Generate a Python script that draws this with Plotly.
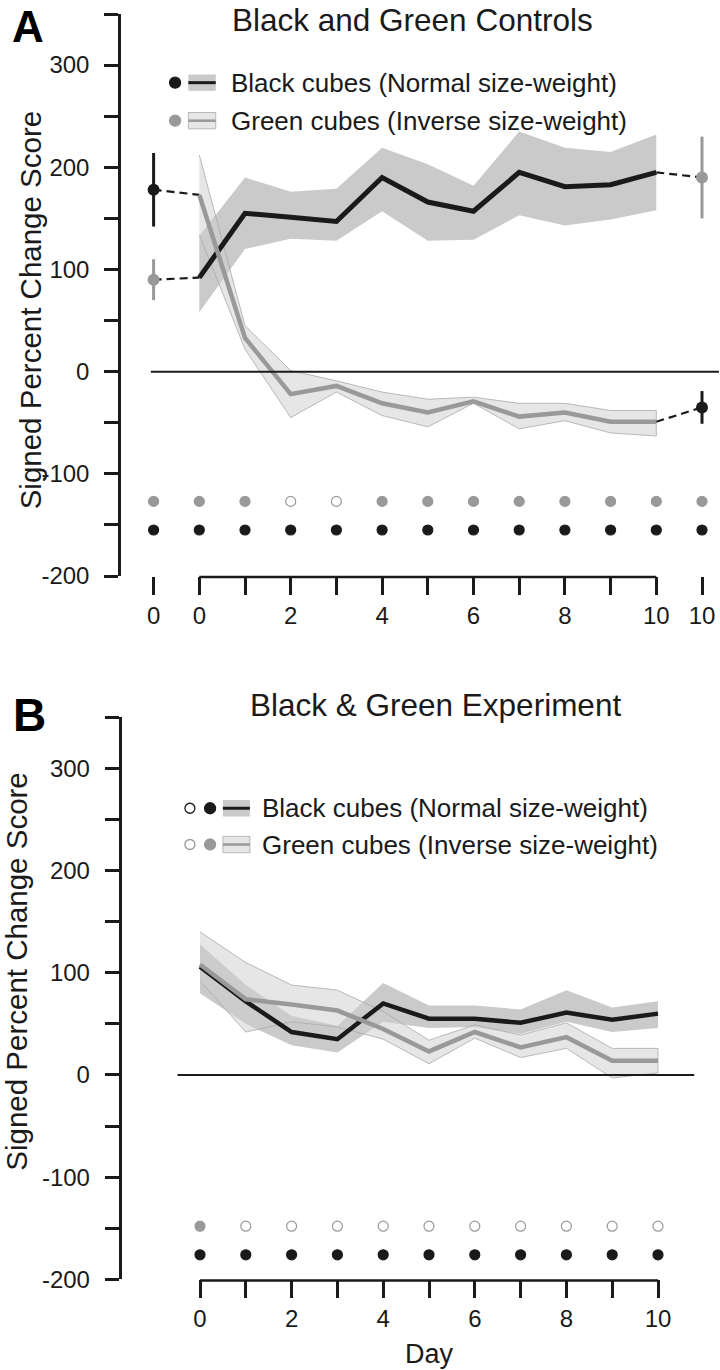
import plotly.graph_objects as go

# ---------------- data ----------------
days = list(range(11))
pre_day = -1
post_day = 11

# Panel A: Black and Green Controls
A_black_mean = [92, 155, 151, 147, 190, 166, 157, 195, 181, 183, 195]
A_black_upper = [133, 190, 176, 179, 219, 203, 182, 235, 219, 215, 232]
A_black_lower = [58, 120, 130, 128, 157, 128, 129, 153, 143, 149, 158]
A_green_mean = [173, 33, -22, -14, -31, -40, -29, -44, -40, -49, -49]
A_green_upper = [212, 45, 1, -9, -20, -27, -25, -31, -31, -38, -38]
A_green_lower = [134, 22, -45, -20, -43, -54, -31, -56, -48, -60, -63]
A_pre_black, A_pre_black_err = 178, 36
A_pre_green, A_pre_green_err = 90, 20
A_post_green, A_post_green_err = 190, 40
A_post_black, A_post_black_err = -35, 16
A_sig_days = [-1] + days + [11]
A_gray_sig = [1, 1, 1, 0, 0, 1, 1, 1, 1, 1, 1, 1, 1]
A_black_sig = [1] * 13

# Panel B: Black & Green Experiment
B_black_mean = [106, 72, 42, 35, 70, 55, 55, 51, 61, 54, 60]
B_black_upper = [128, 88, 58, 48, 90, 68, 68, 64, 83, 66, 72]
B_black_lower = [80, 50, 29, 22, 52, 46, 47, 40, 52, 42, 46]
B_green_mean = [108, 74, 69, 63, 45, 23, 42, 27, 37, 14, 14]
B_green_upper = [140, 110, 88, 83, 62, 34, 49, 39, 51, 26, 26]
B_green_lower = [92, 42, 52, 47, 35, 11, 36, 17, 26, -3, 2]
B_sig_days = days
B_gray_sig = [1, 0, 0, 0, 0, 0, 0, 0, 0, 0, 0]
B_black_sig = [1] * 11

y_ticks = list(range(-200, 351, 50))
y_ticktext = [str(v) if v % 100 == 0 else "" for v in y_ticks]
A_xticks = [-1] + days + [11]
A_xticktext = ["0"] + [str(d) if d % 2 == 0 else "" for d in days] + ["10"]
B_xticks = days
B_xticktext = [str(d) if d % 2 == 0 else "" for d in days]

legend_labels = ["Black cubes (Normal size-weight)", "Green cubes (Inverse size-weight)"]

# ---------------- style ----------------
W, H = 720, 1370
INK = "#1a1a1a"
GREY = "#999999"
BLACK_BAND = "rgba(150,150,150,0.5)"
GREEN_BAND = "rgba(205,205,205,0.5)"
GREEN_EDGE = "rgba(170,170,170,0.8)"
FONT = "Liberation Sans, Arial, sans-serif"

fig = go.Figure()


def band(x, up, lo, fill, edge, xa, ya):
    fig.add_trace(go.Scatter(
        x=list(x) + list(x)[::-1], y=list(up) + list(lo)[::-1],
        fill="toself", fillcolor=fill, mode="lines",
        line=dict(color=edge, width=1 if edge else 0),
        hoverinfo="skip", xaxis=xa, yaxis=ya))


def line(x, y, color, width, xa, ya, dash=None):
    fig.add_trace(go.Scatter(x=x, y=y, mode="lines",
                             line=dict(color=color, width=width, dash=dash),
                             xaxis=xa, yaxis=ya))


def sig_row(x, flags, yval, color, xa, ya):
    fig.add_trace(go.Scatter(
        x=x, y=[yval] * len(x), mode="markers",
        marker=dict(size=10, color=[color if f else "white" for f in flags],
                    line=dict(color=color, width=1.2)),
        xaxis=xa, yaxis=ya, cliponaxis=False))


# ----- Panel A -----
band(days, A_black_upper, A_black_lower, BLACK_BAND, None, "x", "y")
band(days, A_green_upper, A_green_lower, GREEN_BAND, GREEN_EDGE, "x", "y")
DASH = "8px,5px"
line([pre_day, 0], [A_pre_black, A_green_mean[0]], INK, 2.2, "x", "y", DASH)
line([pre_day, 0], [A_pre_green, A_black_mean[0]], INK, 2.2, "x", "y", DASH)
line([10, post_day], [A_black_mean[-1], A_post_green], INK, 2.2, "x", "y", DASH)
line([10, post_day], [A_green_mean[-1], A_post_black], INK, 2.2, "x", "y", DASH)
for xv, yv, err, col in [(pre_day, A_pre_black, A_pre_black_err, INK),
                         (pre_day, A_pre_green, A_pre_green_err, GREY),
                         (post_day, A_post_green, A_post_green_err, GREY),
                         (post_day, A_post_black, A_post_black_err, INK)]:
    fig.add_trace(go.Scatter(x=[xv], y=[yv], mode="markers",
                             marker=dict(size=12, color=col),
                             error_y=dict(type="data", array=[err], color=col,
                                          thickness=3, width=0),
                             xaxis="x", yaxis="y"))
line(days, A_black_mean, INK, 5, "x", "y")
line(days, A_green_mean, GREY, 4.5, "x", "y")
sig_row(A_sig_days, A_gray_sig, -127, GREY, "x", "y")
sig_row(A_sig_days, A_black_sig, -155, INK, "x", "y")

# ----- Panel B -----
band(days, B_black_upper, B_black_lower, BLACK_BAND, None, "x2", "y2")
band(days, B_green_upper, B_green_lower, GREEN_BAND, GREEN_EDGE, "x2", "y2")
line(days, B_black_mean, INK, 4.5, "x2", "y2")
line(days, B_green_mean, GREY, 4.5, "x2", "y2")
sig_row(B_sig_days, B_gray_sig, -148, GREY, "x2", "y2")
sig_row(B_sig_days, B_black_sig, -176, INK, "x2", "y2")

# ---------------- axes ----------------
A_x0px, A_day0px, A_pxday = 121, 199.3, 45.7
B_x0px, B_day0px, B_pxday = 121.5, 200.0, 45.8
A_xrange = [(A_x0px - A_day0px) / A_pxday, (W - A_day0px) / A_pxday]
B_xrange = [(B_x0px - B_day0px) / B_pxday, (W - B_day0px) / B_pxday]
A_ydom = [1 - 576 / H, 1 - 14 / H]
B_ydom = [1 - 1279.3 / H, 1 - 717.3 / H]

xcommon = dict(showgrid=False, zeroline=False, showline=False, ticks="outside",
               ticklen=18, tickwidth=2.5, tickcolor=INK, automargin=False,
               tickfont=dict(size=24, color=INK, family=FONT), fixedrange=True)
ycommon = dict(showgrid=False, zeroline=False, showline=True, linewidth=2.5,
               linecolor=INK, ticks="outside", ticklen=14, tickwidth=2.5,
               tickcolor=INK, tickvals=y_ticks, ticktext=y_ticktext,
               range=[-200, 350], ticklabelstandoff=10, automargin=False,
               tickfont=dict(size=24, color=INK, family=FONT), fixedrange=True)

fig.update_layout(
    template="none",
    width=W, height=H, autosize=False,
    margin=dict(l=0, r=0, t=0, b=0, pad=0, autoexpand=False),
    paper_bgcolor="white", plot_bgcolor="white", showlegend=False,
    font=dict(family=FONT, color=INK),
    xaxis=dict(domain=[A_x0px / W, 1], range=A_xrange, anchor="y",
               tickvals=A_xticks, ticktext=A_xticktext, **xcommon),
    yaxis=dict(domain=A_ydom, anchor="x", **ycommon),
    xaxis2=dict(domain=[B_x0px / W, 1], range=B_xrange, anchor="y2",
                tickvals=B_xticks, ticktext=B_xticktext, **xcommon),
    yaxis2=dict(domain=B_ydom, anchor="x2", **ycommon),
)

shapes = []
# x-axis lines (day 0 to day 10), zero lines
for xa, ya, zx in [("x", "y", [-1.06, 11.37]), ("x2", "y2", [-0.49, 10.79])]:
    shapes.append(dict(type="line", xref=xa, yref=ya + " domain", x0=0, x1=10,
                       y0=-0.002, y1=-0.002, line=dict(color=INK, width=2.5)))
    shapes.append(dict(type="line", xref=xa, yref=ya, x0=zx[0], x1=zx[1],
                       y0=0, y1=0, line=dict(color=INK, width=2)))

annotations = []


def legend_rows(xa, ya, dot_specs, sw_x, rows_y, half_h, text_x):
    for i, (ry, label) in enumerate(zip(rows_y, legend_labels)):
        fillc = BLACK_BAND if i == 0 else GREEN_BAND
        edge = None if i == 0 else GREEN_EDGE
        linec = INK if i == 0 else GREY
        shapes.append(dict(type="rect", xref=xa, yref=ya, x0=sw_x[0], x1=sw_x[1],
                           y0=ry - half_h, y1=ry + half_h, fillcolor=fillc,
                           line=dict(color=edge or "rgba(0,0,0,0)", width=1)))
        shapes.append(dict(type="line", xref=xa, yref=ya, x0=sw_x[0], x1=sw_x[1],
                           y0=ry, y1=ry, line=dict(color=linec, width=3 if i == 0 else 2.5)))
        for dx, filled, size in dot_specs:
            col = INK if i == 0 else GREY
            fig.add_trace(go.Scatter(
                x=[dx], y=[ry], mode="markers", xaxis=xa, yaxis=ya,
                marker=dict(size=size, color=col if filled else "white",
                            line=dict(color=col, width=1.3))))
        annotations.append(dict(xref=xa, yref=ya, x=text_x, y=ry, text=label,
                                showarrow=False, xanchor="left", yanchor="middle",
                                font=dict(size=26, color=INK, family=FONT)))


legend_rows("x", "y", [(-0.53, True, 11)], [-0.24, 0.36], [282.8, 245.6], 8.0, 0.66)
legend_rows("x2", "y2", [(-0.22, False, 10), (0.22, True, 11)], [0.50, 1.09],
            [261.0, 225.5], 8.0, 1.32)

# titles, panel letters, axis titles
annotations += [
    dict(xref="paper", yref="paper", x=412 / W, y=1, text="Black and Green Controls",
         showarrow=False, xanchor="center", yanchor="top",
         font=dict(size=31.5, color=INK, family=FONT)),
    dict(xref="paper", yref="paper", x=436 / W, y=1 - 705 / H, text="Black & Green Experiment",
         showarrow=False, xanchor="center", yanchor="middle",
         font=dict(size=31.5, color=INK, family=FONT)),
    dict(xref="paper", yref="paper", x=28 / W, y=1, text="<b>A</b>",
         showarrow=False, xanchor="center", yanchor="top",
         font=dict(size=44, color="black", family=FONT)),
    dict(xref="paper", yref="paper", x=29 / W, y=1 - 715 / H, text="<b>B</b>",
         showarrow=False, xanchor="center", yanchor="middle",
         font=dict(size=46, color="black", family=FONT)),
    dict(xref="paper", yref="y", x=30 / W, y=60, text="Signed Percent Change Score",
         textangle=-90, showarrow=False, xanchor="center", yanchor="middle",
         font=dict(size=29.5, color=INK, family=FONT)),
    dict(xref="paper", yref="y2", x=17 / W, y=101, text="Signed Percent Change Score",
         textangle=-90, showarrow=False, xanchor="center", yanchor="middle",
         font=dict(size=29.5, color=INK, family=FONT)),
    dict(xref="x2", yref="paper", x=5, y=1 - 1354 / H, text="Day",
         showarrow=False, xanchor="center", yanchor="middle",
         font=dict(size=27, color=INK, family=FONT)),
]

fig.update_layout(shapes=shapes, annotations=annotations)
fig.write_html("out.html", config={"displayModeBar": False, "responsive": False},
               post_script="document.body.style.margin='0px';document.body.style.overflow='hidden';")
